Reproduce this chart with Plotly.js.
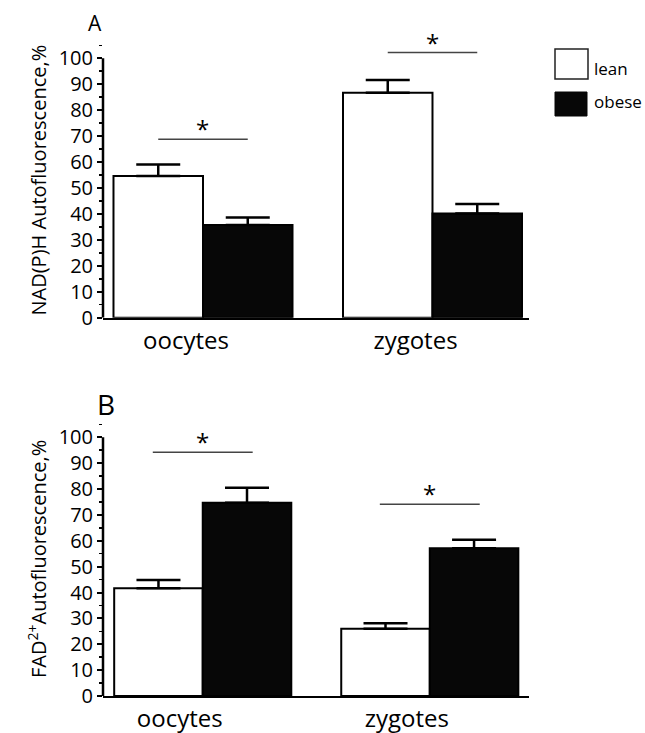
<!DOCTYPE html>
<html><head><meta charset="utf-8">
<script src="https://cdn.plot.ly/plotly-3.0.1.min.js"></script>
<style>html,body{margin:0;padding:0;background:#fff}</style>
</head><body><div id="chart" style="width:645px;height:733px"></div>
<script>
// ---- data ----
const categories = ['oocytes', 'zygotes'];
const seriesNames = ['lean', 'obese'];
const nadLean = [54.6, 86.7];
const nadLeanErr = [4.4, 4.9];
const nadObese = [35.7, 40.2];
const nadObeseErr = [2.9, 3.6];
const fadLean = [41.6, 26.0];
const fadLeanErr = [3.2, 2.1];
const fadObese = [74.7, 57.1];
const fadObeseErr = [5.8, 3.3];
const nadSigY = [68.8, 102.2];
const fadSigY = [94.2, 74.1];
const yTickVals = [0, 10, 20, 30, 40, 50, 60, 70, 80, 90, 100];
const panelLabels = ['A', 'B'];
const yTitles = ['NAD(P)H Autofluorescence,%', 'FAD<sup>2+</sup>Autofluorescence,%'];

// ---- style ----
const FONT = 'Open Sans, sans-serif';
const W = 0.39;
const W_PX = 645, H_PX = 733;
const px = v => v / W_PX;
const py = v => 1 - v / H_PX;

function barTrace(x, y, err, name, fill, xa, ya) {
  const isLean = name === seriesNames[0];
  return {
    type: 'bar', x: x, y: y, name: name, xaxis: xa, yaxis: ya,
    offset: isLean ? -W : 0, width: W,
    marker: {color: fill, line: {color: '#000', width: 2}},
    error_y: {type: 'data', symmetric: false, array: err, arrayminus: err.map(() => 0),
      color: '#000', thickness: 2.5, width: 22},
    showlegend: false, hoverinfo: 'skip'
  };
}

const data = [
  barTrace(categories, nadLean, nadLeanErr, seriesNames[0], '#ffffff', 'x', 'y'),
  barTrace(categories, nadObese, nadObeseErr, seriesNames[1], '#070707', 'x', 'y'),
  barTrace(categories, fadLean, fadLeanErr, seriesNames[0], '#ffffff', 'x2', 'y2'),
  barTrace(categories, fadObese, fadObeseErr, seriesNames[1], '#070707', 'x2', 'y2')
];

const shapes = [];
const annotations = [];

function sigMarks(sigY, xa, ya, half) {
  sigY.forEach((v, i) => {
    shapes.push({type: 'line', xref: xa, yref: ya, x0: i - half, x1: i + half, y0: v, y1: v,
      line: {color: '#444', width: 1.5}});
    annotations.push({xref: xa, yref: ya, x: i, y: v, text: '*', showarrow: false,
      yanchor: 'bottom', yshift: -8, font: {family: FONT, size: 24, color: '#000'}});
  });
}
sigMarks(nadSigY, 'x', 'y', 0.195);
sigMarks(fadSigY, 'x2', 'y2', 0.22);

// y axis lines from 0 to 100
[['x', 'y'], ['x2', 'y2']].forEach(([xa, ya]) => {
  shapes.push({type: 'line', xref: xa + ' domain', yref: ya, x0: 0, x1: 0, y0: 0, y1: 100,
    line: {color: '#000', width: 2.5}});
});

// legend (drawn)
shapes.push({type: 'rect', xref: 'paper', yref: 'paper', x0: px(555), x1: px(588), y0: py(49), y1: py(79),
  fillcolor: '#fff', line: {color: '#222', width: 1.5}});
shapes.push({type: 'rect', xref: 'paper', yref: 'paper', x0: px(555), x1: px(587), y0: py(92), y1: py(116),
  fillcolor: '#070707', line: {color: '#070707', width: 1}});
annotations.push({xref: 'paper', yref: 'paper', x: px(592), y: py(69), text: seriesNames[0], showarrow: false,
  xanchor: 'left', yanchor: 'middle', font: {family: FONT, size: 17, color: '#000'}});
annotations.push({xref: 'paper', yref: 'paper', x: px(592), y: py(101), text: seriesNames[1], showarrow: false,
  xanchor: 'left', yanchor: 'middle', font: {family: FONT, size: 17, color: '#000'}});

// panel letters
annotations.push({xref: 'paper', yref: 'paper', x: px(95), y: py(23), text: panelLabels[0], showarrow: false,
  xanchor: 'center', yanchor: 'middle', font: {family: FONT, size: 21, color: '#000'}});
annotations.push({xref: 'paper', yref: 'paper', x: px(106), y: py(404), text: panelLabels[1], showarrow: false,
  xanchor: 'center', yanchor: 'middle', font: {family: FONT, size: 28, color: '#000'}});

function yAxis(domain, title) {
  return {
    domain: domain, range: [0, 106], showline: false, zeroline: false, showgrid: false,
    tickmode: 'array', tickvals: yTickVals, ticks: 'outside', ticklen: 5, tickwidth: 2, tickcolor: '#000',
    minor: {dtick: 5, tick0: 0, ticks: 'outside', ticklen: 3, tickwidth: 1.5, tickcolor: '#000', showgrid: false},
    tickfont: {family: FONT, size: 20, color: '#000'},
    title: {text: title, font: {family: FONT, size: 20, color: '#000'}, standoff: 6},
    fixedrange: true
  };
}
function xAxis(range, anchor, standoff, shift) {
  return {
    domain: [px(103), px(529)], range: range, type: 'category', anchor: anchor,
    showline: true, linecolor: '#000', linewidth: 2.5, ticks: '', showgrid: false, zeroline: false,
    tickfont: {family: FONT, size: 24, color: '#000'}, ticklabelstandoff: standoff,
    ticklabelshift: shift, fixedrange: true
  };
}

const layout = {
  width: W_PX, height: H_PX, autosize: false,
  margin: {l: 0, r: 0, t: 0, b: 0},
  paper_bgcolor: '#fff', plot_bgcolor: 'rgba(0,0,0,0)',
  showlegend: false, barmode: 'overlay',
  xaxis: xAxis([-0.4357, 1.4205], 'y', 0, -17),
  yaxis: yAxis([0.5666, 0.9418], yTitles[0]),
  xaxis2: xAxis([-0.4393, 1.437], 'y2', 0, -23),
  yaxis2: yAxis([0.0505, 0.4246], yTitles[1]),
  shapes: shapes, annotations: annotations
};

Plotly.newPlot('chart', data, layout, {displayModeBar: false, staticPlot: true});
</script></body></html>
